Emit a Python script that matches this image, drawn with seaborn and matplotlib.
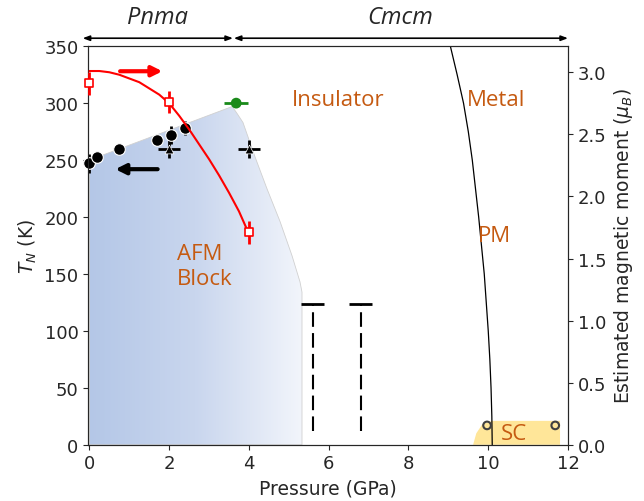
import matplotlib
matplotlib.use("Agg")
import matplotlib.pyplot as plt
import seaborn as sns
import numpy as np
from matplotlib.colors import LinearSegmentedColormap
from matplotlib.patches import Polygon

# --- data ---
# Neel temperature (K) vs pressure (GPa)
tn_p = [0.0, 0.2, 0.75, 1.7, 2.05, 2.4]
tn_k = [247, 253, 260, 268, 272, 278]
tn_err = [8, 4, 4, 4, 8, 6]

# second set (plus markers)
tn2_p = [2.0, 4.0]
tn2_k = [260, 260]

# green point
green_p = [3.68]
green_k = [300]

# estimated magnetic moment (muB)
mom_p = [0.0, 2.0, 4.0]
mom_v = [2.91, 2.76, 1.71]
mom_err = [0.09, 0.09, 0.09]

# red fit curve through the moments
fit_p = [0.0, 0.25, 0.5, 0.75, 1.0, 1.25, 1.5, 1.75, 2.0, 2.25, 2.5,
         2.75, 3.0, 3.25, 3.5, 3.75, 3.97]
fit_v = [3.01, 3.01, 3.00, 2.98, 2.95, 2.92, 2.87, 2.82, 2.75, 2.65, 2.54,
         2.42, 2.30, 2.17, 2.03, 1.88, 1.72]

# AFM block region boundary
afm_p = [0.0, 3.58, 3.7, 3.85, 4.0, 4.15, 4.45, 4.78, 5.08, 5.28, 5.33, 5.33, 0.0]
afm_k = [250, 297, 291, 283, 268, 253, 225, 196, 166, 143, 134, 0, 0]

# lower limits (dashed)
lim_p = [5.6, 6.8]
lim_k = [124, 124]

# insulator / metal boundary
im_p = [9.05, 9.22, 9.38, 9.5, 9.6, 9.68, 9.76, 9.83, 9.9, 9.95, 10.0,
        10.04, 10.07, 10.09, 10.1]
im_k = [350, 325, 300, 275, 250, 225, 200, 175, 150, 125, 100, 75, 50, 25, 0]

# superconducting region
sc_p = [9.62, 9.7, 9.85, 10.1, 11.8, 11.8]
sc_k = [0, 10, 18, 21, 21, 0]
sc_pts_p = [9.97, 11.68]
sc_pts_k = [17, 17]

orange = "#c55a11"

sns.set_style("ticks")
plt.rcParams["font.family"] = ["DejaVu Sans"]
fig, ax = plt.subplots(figsize=(6.44, 5.02), dpi=100)
fig.subplots_adjust(left=0.137, right=0.882, bottom=0.112, top=0.906)
ax2 = ax.twinx()

ax.set_xlim(-0.03, 12)
ax.set_ylim(0, 350)
ax2.set_ylim(0, 3.21)

# gradient AFM region
cmap = LinearSegmentedColormap.from_list("afm", ["#b4c7e7", "#c9d6ee", "#f2f5fb"])
grad = np.linspace(0, 1, 256).reshape(1, -1)
im = ax.imshow(grad, extent=[0, 5.33, 0, 300], aspect="auto", cmap=cmap, zorder=0)
poly = Polygon(list(zip(afm_p, afm_k)), closed=True, facecolor="none",
               edgecolor="#d0d0d0", lw=0.6, zorder=1)
ax.add_patch(poly)
im.set_clip_path(poly)

# SC region
ax.fill(sc_p, sc_k, color="#ffe699", lw=0, zorder=1)
sns.scatterplot(x=sc_pts_p, y=sc_pts_k, ax=ax, marker="o", s=30, facecolor="none",
                edgecolor="#404040", linewidth=1.5, zorder=4)

# insulator-metal line
sns.lineplot(x=im_p, y=im_k, ax=ax, sort=False, color="black", lw=0.9, zorder=3)

# lower limits
ax.vlines(lim_p, 12, lim_k, colors="black", linestyles=(0, (7, 3)), lw=1.5, zorder=3)
ax.hlines(lim_k, np.array(lim_p) - 0.3, np.array(lim_p) + 0.28, colors="black", lw=2, zorder=3)

# TN data
ax.errorbar(tn_p, tn_k, yerr=tn_err, fmt="none", ecolor="black", elinewidth=2,
            zorder=4, clip_on=False)
sns.scatterplot(x=tn_p, y=tn_k, ax=ax, color="black", s=70, edgecolor="white",
                linewidth=0.8, zorder=5, clip_on=False)
ax.errorbar(tn2_p, tn2_k, xerr=0.28, yerr=8, fmt="none", ecolor="black", elinewidth=2, zorder=4)
sns.scatterplot(x=tn2_p, y=tn2_k, ax=ax, color="black", marker="^", s=40, zorder=5)
ax.errorbar(green_p, green_k, xerr=0.3, fmt="none", ecolor="#1a8a1a", elinewidth=2, zorder=4)
sns.scatterplot(x=green_p, y=green_k, ax=ax, color="#1a8a1a", s=60, edgecolor="none", zorder=5)

# magnetic moment (right axis)
sns.lineplot(x=fit_p, y=fit_v, ax=ax2, sort=False, color="red", lw=1.5, zorder=3)
ax2.errorbar(mom_p, mom_v, yerr=mom_err, fmt="none", ecolor="red", elinewidth=2,
             zorder=4, clip_on=False)
sns.scatterplot(x=mom_p, y=mom_v, ax=ax2, marker="s", s=40, facecolor="white",
                edgecolor="red", linewidth=1.2, zorder=5, clip_on=False)

# arrows pointing to axes
ax.annotate("", xy=(1.9, 328), xytext=(0.7, 328),
            arrowprops=dict(arrowstyle="-|>,head_length=0.6,head_width=0.3", color="red", lw=3))
ax.annotate("", xy=(0.58, 242), xytext=(1.78, 242),
            arrowprops=dict(arrowstyle="-|>,head_length=0.6,head_width=0.3", color="black", lw=3))

# structure arrows on top
for x0, x1 in [(-0.17, 3.6), (3.62, 12.0)]:
    ax.annotate("", xy=(x1, 357), xytext=(x0, 357), annotation_clip=False,
                arrowprops=dict(arrowstyle="<|-|>,head_length=0.4,head_width=0.15",
                                color="black", lw=1.2, shrinkA=0, shrinkB=0))
ax.text(1.7, 376, "Pnma", style="italic", fontsize=17, ha="center", va="center",
        family="Open Sans")
ax.text(7.8, 376, "Cmcm", style="italic", fontsize=17, ha="center", va="center",
        family="Open Sans")

# region labels
lab = dict(color=orange, fontsize=16, family="Open Sans")
ax.text(6.25, 303, "Insulator", ha="center", va="center", **lab)
ax.text(10.2, 303, "Metal", ha="center", va="center", **lab)
ax.text(10.15, 184, "PM", ha="center", va="center", **lab)
ax.text(2.2, 157, "AFM\nBlock", ha="left", va="center", linespacing=1.25, **lab)
ax.text(10.65, 10, "SC", ha="center", va="center", **lab)

ax.set_xticks(range(0, 13, 2))
ax.set_yticks(range(0, 351, 50))
ax2.set_yticks(np.arange(0, 3.01, 0.5))
ax.tick_params(labelsize=13)
ax2.tick_params(labelsize=13)
ax.set_xlabel("Pressure (GPa)", fontsize=13.5)
ax.set_ylabel("$T_N$ (K)", fontsize=13.5)
ax2.set_ylabel("Estimated magnetic moment ($\\mu_B$)", fontsize=13.5)

fig.savefig("out.png", dpi=100)
